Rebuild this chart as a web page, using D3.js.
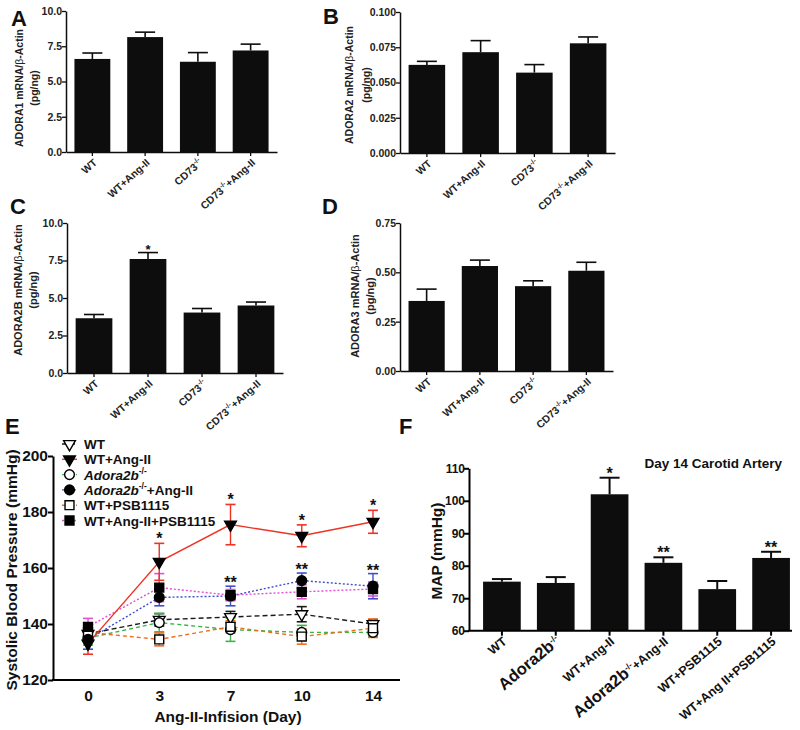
<!DOCTYPE html>
<html><head><meta charset="utf-8">
<script src="https://cdn.jsdelivr.net/npm/d3@7"></script>
<style>
body{margin:0;background:#fff;}
svg{display:block;font-family:"Liberation Sans",Arial,sans-serif;font-weight:bold;}
</style></head><body>
<svg id="fig" width="800" height="730"></svg>
<script>
// ---------- DATA ----------
const mrnaGroups = ["WT", "WT+Ang-II", "CD73-/-", "CD73-/-+Ang-II"];

const adora1Mean = [6.6, 8.15, 6.4, 7.2];
const adora1Sem  = [0.42, 0.35, 0.65, 0.45];
const adora1Ticks = [0, 2.5, 5, 7.5, 10];

const adora2Mean = [0.0625, 0.0715, 0.057, 0.0778];
const adora2Sem  = [0.0025, 0.0082, 0.0057, 0.0045];
const adora2Ticks = [0, 0.025, 0.05, 0.075, 0.1];

const adora2bMean = [3.65, 7.6, 4.03, 4.5];
const adora2bSem  = [0.25, 0.43, 0.27, 0.23];
const adora2bTicks = [0, 2.5, 5, 7.5, 10];
const adora2bStars = ["", "*", "", ""];

const adora3Mean = [0.355, 0.532, 0.43, 0.508];
const adora3Sem  = [0.06, 0.03, 0.027, 0.043];
const adora3Ticks = [0, 0.25, 0.5, 0.75];

const days = ["0", "3", "7", "10", "14"];
const sbpTicks = [120, 140, 160, 180, 200];
const sbpNames = ["WT", "WT+Ang-II", "Adora2b-/-", "Adora2b-/-+Ang-II", "WT+PSB1115", "WT+Ang-II+PSB1115"];
const sbpWT        = [136.5, 141.5, 142.5, 143.5, 140.0];
const sbpWTSem     = [2.5, 2.2, 2.0, 2.7, 1.5];
const sbpWTAng     = [133.0, 162.2, 175.5, 171.5, 176.5];
const sbpWTAngSem  = [3.8, 6.6, 7.2, 3.9, 4.1];
const sbpKO        = [135.0, 140.5, 138.0, 137.0, 137.0];
const sbpKOSem     = [2.5, 3.3, 4.2, 2.5, 1.5];
const sbpKOAng     = [134.5, 149.5, 150.0, 155.5, 153.5];
const sbpKOAngSem  = [3.5, 3.0, 3.5, 2.7, 4.5];
const sbpPSB       = [137.0, 134.5, 139.0, 135.5, 138.5];
const sbpPSBSem    = [2.0, 2.3, 2.2, 2.7, 3.3];
const sbpAngPSB    = [139.0, 153.0, 150.3, 151.5, 152.5];
const sbpAngPSBSem = [3.0, 5.0, 2.0, 2.5, 2.5];
const sbpAngStars  = ["", "*", "*", "*", "*"];
const sbpKOStars   = ["", "", "**", "**", "**"];

const mapGroups = ["WT", "Adora2b-/-", "WT+Ang-II", "Adora2b-/-+Ang-II", "WT+PSB1115", "WT+Ang II+PSB1115"];
const mapMean = [75.1, 74.7, 102.0, 80.9, 72.8, 82.4];
const mapSem  = [0.8, 1.8, 5.1, 1.7, 2.5, 1.9];
const mapStars = ["", "", "*", "**", "", "**"];
const mapTicks = [60, 70, 80, 90, 100, 110];

// ---------- HELPERS ----------
const svg = d3.select("#fig");
const INK = "#0d0d0d";

function richLabel(text, label, o) {
  const parts = label.split("-/-");
  const shift = o.size * 0.42;
  parts.forEach((p, i) => {
    if (i > 0) {
      text.append("tspan").attr("font-size", o.sup).attr("dy", -shift).text("-/-");
    }
    if (p) {
      const big = (i === 0 && parts.length > 1 && o.prefixSize);
      const t = text.append("tspan").text(p)
        .attr("font-size", big ? o.prefixSize : o.size);
      if (i > 0) t.attr("dy", shift);
      if (i === 0 && parts.length > 1 && o.italic) t.attr("font-style", "italic");
    } else if (i > 0) {
      text.append("tspan").attr("dy", shift).text("");
    }
  });
}

function barPanel(cfg) {
  const g = svg.append("g");
  const y = d3.scaleLinear().domain([0, d3.max(cfg.ticks)]).range([cfg.yBot, cfg.yTop]);
  const x = d3.scaleBand().domain(mrnaGroups).range([cfg.x0, cfg.x1])
    .paddingInner(0.32).paddingOuter(0.16);
  const bw = x.bandwidth();

  g.selectAll("rect.bar").data(cfg.means).join("rect")
    .attr("x", (d, i) => x(mrnaGroups[i]))
    .attr("y", d => y(d))
    .attr("width", bw)
    .attr("height", d => y(0) - y(d))
    .attr("fill", INK);
  cfg.means.forEach((m, i) => {
    const cx = x(mrnaGroups[i]) + bw / 2;
    const top = y(m + cfg.sems[i]);
    g.append("line").attr("x1", cx).attr("x2", cx).attr("y1", y(m)).attr("y2", top)
      .attr("stroke", INK).attr("stroke-width", 1.6);
    g.append("line").attr("x1", cx - 10).attr("x2", cx + 10).attr("y1", top).attr("y2", top)
      .attr("stroke", INK).attr("stroke-width", 1.6);
    if (cfg.stars && cfg.stars[i]) {
      g.append("text").attr("x", cx).attr("y", top + 1).attr("text-anchor", "middle")
        .attr("font-size", 13).attr("fill", INK).text(cfg.stars[i]);
    }
  });

  const ya = g.append("g").attr("transform", `translate(${cfg.x0},0)`)
    .call(d3.axisLeft(y).tickValues(cfg.ticks).tickFormat(d3.format(cfg.fmt)).tickSize(4).tickSizeOuter(0));
  ya.select(".domain").attr("stroke", INK).attr("stroke-width", 1.5);
  ya.selectAll(".tick line").attr("stroke", INK).attr("stroke-width", 1.3);
  ya.selectAll(".tick text").attr("font-size", 10.5).attr("font-family", "Liberation Sans, Arial")
    .attr("font-weight", "bold").attr("fill", "#222").attr("x", -4);

  const xa = g.append("g").attr("transform", `translate(0,${cfg.yBot})`)
    .call(d3.axisBottom(x).tickSize(4).tickSizeOuter(0).tickFormat(""));
  xa.select(".domain").attr("stroke", INK).attr("stroke-width", 1.5);
  xa.selectAll(".tick line").attr("stroke", INK).attr("stroke-width", 1.3);

  mrnaGroups.forEach(lbl => {
    const cx = x(lbl) + bw / 2;
    const t = g.append("text")
      .attr("transform", `translate(${cx + 3},${cfg.yBot + 9}) rotate(-42)`)
      .attr("y", 3.5).attr("text-anchor", "end").attr("fill", "#222");
    richLabel(t, lbl, { size: 10.5, sup: 7 });
  });

  [[cfg.title1, cfg.tx1], ["(pg/ng)", cfg.tx2]].forEach(([txt, tx]) => {
    const t = g.append("text")
      .attr("transform", `translate(${tx},${cfg.ty}) rotate(-90)`)
      .attr("y", 4).attr("text-anchor", "middle").attr("font-size", cfg.tfs).attr("fill", "#222");
    if (txt.includes("β")) {
      const [a, b] = txt.split("β");
      t.append("tspan").text(a);
      t.append("tspan").attr("font-weight", "normal").text("β");
      t.append("tspan").text(b);
    } else t.text(txt);
  });

  g.append("text").attr("x", cfg.lx).attr("y", cfg.ly).attr("font-size", 22)
    .attr("fill", "#111").text(cfg.letter);
}

// ---------- PANELS A-D ----------
barPanel({ means: adora1Mean, sems: adora1Sem, ticks: adora1Ticks, fmt: ".1f",
  x0: 66, x1: 277, yTop: 11, yBot: 152, title1: "ADORA1 mRNA/β-Actin", tfs: 10.5,
  tx1: 19, tx2: 34, ty: 88, letter: "A", lx: 11, ly: 26 });
barPanel({ means: adora2Mean, sems: adora2Sem, ticks: adora2Ticks, fmt: ".3f",
  x0: 400, x1: 615, yTop: 12, yBot: 153, title1: "ADORA2 mRNA/β-Actin", tfs: 10.5,
  tx1: 349, tx2: 366, ty: 85, letter: "B", lx: 323, ly: 24 });
barPanel({ means: adora2bMean, sems: adora2bSem, ticks: adora2bTicks, fmt: ".1f", stars: adora2bStars,
  x0: 67, x1: 283, yTop: 223, yBot: 373, title1: "ADORA2B mRNA/β-Actin", tfs: 11,
  tx1: 18, tx2: 33, ty: 290, letter: "C", lx: 10, ly: 214 });
barPanel({ means: adora3Mean, sems: adora3Sem, ticks: adora3Ticks, fmt: ".2f",
  x0: 400, x1: 613, yTop: 223, yBot: 371, title1: "ADORA3 mRNA/β-Actin", tfs: 11,
  tx1: 355, tx2: 370, ty: 296, letter: "D", lx: 322, ly: 214 });

// ---------- PANEL E ----------
(function () {
  const g = svg.append("g");
  const y = d3.scaleLinear().domain([120, 200]).range([680, 456]);
  const x = d3.scalePoint().domain(days).range([88, 373]);
  const axisRight = 400;

  const series = [
    { vals: sbpWT, sem: sbpWTSem },
    { vals: sbpWTAng, sem: sbpWTAngSem },
    { vals: sbpKO, sem: sbpKOSem },
    { vals: sbpKOAng, sem: sbpKOAngSem },
    { vals: sbpPSB, sem: sbpPSBSem },
    { vals: sbpAngPSB, sem: sbpAngPSBSem }
  ];
  const styles = [
    { color: "#1a1a1a", dash: "5,3", shape: "tri", fill: "#fff" },
    { color: "#ee3224", dash: null, shape: "tri", fill: "#000" },
    { color: "#3bb54a", dash: "4,3", shape: "circle", fill: "#fff" },
    { color: "#3f4fcc", dash: "2,2", shape: "circle", fill: "#000" },
    { color: "#f26a1b", dash: "4,3", shape: "square", fill: "#fff" },
    { color: "#e14fd6", dash: "2,2", shape: "square", fill: "#000" }
  ];
  const symPath = {
    tri: d3.symbol().type(d3.symbolTriangle).size(60)(),
    circle: d3.symbol().type(d3.symbolCircle).size(75)(),
    square: d3.symbol().type(d3.symbolSquare).size(80)()
  };
  function marker(sel, st, cx, cy) {
    sel.append("path").attr("d", symPath[st.shape])
      .attr("transform", `translate(${cx},${cy})` + (st.shape === "tri" ? " rotate(180)" : ""))
      .attr("fill", st.fill).attr("stroke", "#000").attr("stroke-width", 1.4);
  }

  const order = [0, 2, 4, 3, 5, 1];
  const line = d3.line().x((d, i) => x(days[i])).y(d => y(d));
  order.forEach(k => {
    const s = series[k], st = styles[k];
    g.append("path").attr("d", line(s.vals)).attr("fill", "none")
      .attr("stroke", st.color).attr("stroke-width", 1.4)
      .attr("stroke-dasharray", st.dash);
  });
  order.forEach(k => {
    const s = series[k], st = styles[k];
    s.vals.forEach((v, i) => {
      const cx = x(days[i]);
      const t = y(v + s.sem[i]), b = y(v - s.sem[i]);
      g.append("line").attr("x1", cx).attr("x2", cx).attr("y1", t).attr("y2", b)
        .attr("stroke", st.color).attr("stroke-width", 1.4);
      [t, b].forEach(yy => g.append("line").attr("x1", cx - 5).attr("x2", cx + 5)
        .attr("y1", yy).attr("y2", yy).attr("stroke", st.color).attr("stroke-width", 1.6));
    });
  });
  order.forEach(k => {
    const s = series[k], st = styles[k];
    s.vals.forEach((v, i) => marker(g, st, x(days[i]), y(v)));
  });

  sbpAngStars.forEach((s, i) => {
    if (!s) return;
    g.append("text").attr("x", x(days[i])).attr("y", y(sbpWTAng[i] + sbpWTAngSem[i]) + 1)
      .attr("text-anchor", "middle").attr("font-size", 16).attr("fill", "#111").text(s);
  });
  sbpKOStars.forEach((s, i) => {
    if (!s) return;
    g.append("text").attr("x", x(days[i])).attr("y", y(sbpKOAng[i] + sbpKOAngSem[i]) + 2)
      .attr("text-anchor", "middle").attr("font-size", 16).attr("fill", "#111").text(s);
  });

  const ya = g.append("g").attr("transform", "translate(53,0)")
    .call(d3.axisLeft(y).tickValues(sbpTicks).tickSize(5).tickSizeOuter(0));
  ya.select(".domain").attr("stroke", "#000").attr("stroke-width", 2);
  ya.selectAll(".tick line").attr("stroke", "#000").attr("stroke-width", 2);
  ya.selectAll(".tick text").attr("font-size", 15.5).attr("font-family", "Liberation Sans, Arial")
    .attr("font-weight", "bold").attr("fill", "#111").attr("x", -5);

  const xa = g.append("g").attr("transform", "translate(0,680)")
    .call(d3.axisBottom(x).tickSize(0).tickPadding(10));
  xa.select(".domain").remove();
  xa.selectAll(".tick text").attr("font-size", 15.5).attr("font-family", "Liberation Sans, Arial")
    .attr("font-weight", "bold").attr("fill", "#111");
  g.append("line").attr("x1", 52).attr("x2", axisRight).attr("y1", 680).attr("y2", 680)
    .attr("stroke", "#000").attr("stroke-width", 2);

  g.append("text").attr("x", 228).attr("y", 722).attr("text-anchor", "middle")
    .attr("font-size", 15.5).attr("fill", "#111").text("Ang-II-Infision (Day)");
  g.append("text").attr("transform", "translate(11,570) rotate(-90)").attr("y", 6)
    .attr("text-anchor", "middle").attr("font-size", 15.5).attr("fill", "#111")
    .text("Systolic Blood Pressure (mmHg)");

  sbpNames.forEach((nm, k) => {
    const st = styles[k];
    const ly = 444 + k * 15.3;
    g.append("line").attr("x1", 62).attr("x2", 77).attr("y1", ly).attr("y2", ly)
      .attr("stroke", st.color).attr("stroke-width", 1.4).attr("stroke-dasharray", st.dash);
    marker(g, st, 69.5, ly);
    const t = g.append("text").attr("x", 84).attr("y", ly + 5).attr("fill", "#111");
    richLabel(t, nm, { size: 13.5, sup: 8.5, italic: true });
  });

  g.append("text").attr("x", 5).attr("y", 434).attr("font-size", 22).attr("fill", "#111").text("E");
})();

// ---------- PANEL F ----------
(function () {
  const g = svg.append("g");
  const y = d3.scaleLinear().domain([60, 110]).range([630.7, 468.3]);
  const x = d3.scaleBand().domain(mapGroups).range([475, 798]).paddingInner(0.3).paddingOuter(0.15);
  const bw = x.bandwidth();

  g.selectAll("rect.bar").data(mapMean).join("rect")
    .attr("x", (d, i) => x(mapGroups[i])).attr("y", d => y(d))
    .attr("width", bw).attr("height", d => y(60) - y(d)).attr("fill", INK);
  mapMean.forEach((m, i) => {
    const cx = x(mapGroups[i]) + bw / 2;
    const top = y(m + mapSem[i]);
    g.append("line").attr("x1", cx).attr("x2", cx).attr("y1", y(m)).attr("y2", top)
      .attr("stroke", INK).attr("stroke-width", 2);
    g.append("line").attr("x1", cx - 10).attr("x2", cx + 10).attr("y1", top).attr("y2", top)
      .attr("stroke", INK).attr("stroke-width", 2);
    if (mapStars[i]) {
      g.append("text").attr("x", cx).attr("y", top + 1).attr("text-anchor", "middle")
        .attr("font-size", 16).attr("fill", "#111").text(mapStars[i]);
    }
  });

  const ya = g.append("g").attr("transform", "translate(469,0)")
    .call(d3.axisLeft(y).tickValues(mapTicks).tickSize(5).tickSizeOuter(0));
  ya.select(".domain").attr("stroke", "#000").attr("stroke-width", 2);
  ya.selectAll(".tick line").attr("stroke", "#000").attr("stroke-width", 2);
  ya.selectAll(".tick text").attr("font-size", 12).attr("font-family", "Liberation Sans, Arial")
    .attr("font-weight", "bold").attr("fill", "#111").attr("x", -4);

  const xa = g.append("g").attr("transform", "translate(0,630.7)")
    .call(d3.axisBottom(x).tickSize(5).tickFormat(""));
  xa.select(".domain").remove();
  xa.selectAll(".tick line").attr("stroke", "#000").attr("stroke-width", 2);
  g.append("line").attr("x1", 468).attr("x2", 792).attr("y1", 630.7).attr("y2", 630.7)
    .attr("stroke", "#000").attr("stroke-width", 2);

  mapGroups.forEach(lbl => {
    const cx = x(lbl) + bw / 2;
    const t = g.append("text")
      .attr("transform", `translate(${cx + 3},${630.7 + 9}) rotate(-40)`)
      .attr("y", 4).attr("text-anchor", "end").attr("fill", "#111");
    richLabel(t, lbl, { size: 12.5, sup: 8.5, prefixSize: 16.5 });
  });

  g.append("text").attr("transform", "translate(436,551) rotate(-90)").attr("y", 6)
    .attr("text-anchor", "middle").attr("font-size", 15.5).attr("fill", "#111").text("MAP (mmHg)");
  g.append("text").attr("x", 782).attr("y", 468).attr("text-anchor", "end")
    .attr("font-size", 13.5).attr("fill", "#111").text("Day 14 Carotid Artery");

  g.append("text").attr("x", 399).attr("y", 434).attr("font-size", 22).attr("fill", "#111").text("F");
})();
</script>
</body></html>
